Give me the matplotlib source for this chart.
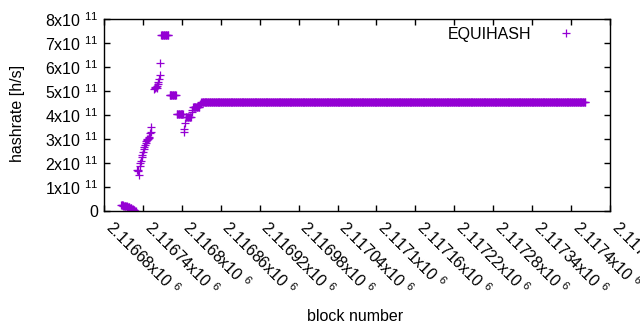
import numpy as np
import matplotlib
matplotlib.use("Agg")
import matplotlib.pyplot as plt

plt.rcParams["font.family"] = ["Liberation Sans", "DejaVu Sans"]
plt.rcParams["mathtext.default"] = "regular"

# hashrate, in units of 1e11 h/s
# each run starts at a block number and covers consecutive blocks
run_starts = [2116706, 2116731, 2116757, 2116768, 2116781, 2116792, 2116803, 2116815]
run_values = [
    [0.23, 0.23, 0.23, 0.23, 0.22, 0.22, 0.21, 0.21, 0.20, 0.19, 0.18, 0.17,
     0.16, 0.15, 0.14, 0.12, 0.11, 0.09, 0.08, 0.06, 0.05, 0.03, 0.02, 0.01],
    [1.72, 1.70, 1.66, 1.50, 1.89, 1.98, 2.08, 2.26, 2.35, 2.45, 2.58, 2.68,
     2.76, 2.85, 2.90, 2.96, 2.99, 3.01, 3.03, 3.10, 3.24, 3.30, 3.51],
    [5.08, 5.13, 5.15, 5.16, 5.14, 5.20, 5.28, 5.36, 5.49, 5.67, 6.15],
    [7.33] * 12,
    [4.82] * 11,
    [4.03] * 11,
    [3.28, 3.42, 3.65] + [3.90] * 9,
    [4.14, 4.22] + [4.32] * 11 + [4.46, 4.50],
]
# long flat stretch at the end
plateau_first = 2116830
plateau_last = 2117422
plateau_value = 4.53

xtick_values = [2116680 + 60 * i for i in range(14)]
ytick_values = [i * 1e11 for i in range(9)]

blocks = []
rates = []
for start, vals in zip(run_starts, run_values):
    for i, v in enumerate(vals):
        blocks.append(start + i)
        rates.append(v * 1e11)
for b in range(plateau_first, plateau_last + 1):
    blocks.append(b)
    rates.append(plateau_value * 1e11)

fs = 11.5
fig = plt.figure(figsize=(6.4, 3.3), dpi=100)
ax = fig.add_axes([104 / 640, 1 - 211 / 330, 506 / 640, 192 / 330])

color = "#9400d3"
ax.plot(blocks, rates, linestyle="none", marker="+", markersize=5.2,
        markeredgewidth=0.9, color=color, label="EQUIHASH")

ax.set_xlim(2116680, 2117460)
ax.set_ylim(0, 8e11)

ax.set_xticks(xtick_values)
xlabels = []
for v in xtick_values:
    s = ("%.5f" % (v / 1e6)).rstrip("0")
    xlabels.append(s + "x10 $^{6}$")
ax.set_xticklabels(xlabels, rotation=-45, ha="left", va="baseline",
                   rotation_mode="anchor", fontsize=fs)

ax.set_yticks(ytick_values)
ylabels = ["0"] + ["%dx10 $^{11}$" % i for i in range(1, 9)]
ax.set_yticklabels(ylabels, fontsize=fs)

ax.tick_params(direction="in", length=4.5, width=1, top=True, right=True)
ax.tick_params(axis="y", pad=4)
ax.tick_params(axis="x", pad=13)
for sp in ax.spines.values():
    sp.set_linewidth(1)

ax.set_ylabel("hashrate [h/s]", fontsize=fs)
ax.yaxis.set_label_coords(-79 / 506, 0.51)
ax.set_xlabel("block number", fontsize=fs)
ax.xaxis.set_label_coords((355 - 104) / 506, -(309 - 211) / 192)

ax.legend(loc="upper right", bbox_to_anchor=(0.945, 0.96), frameon=False,
          markerfirst=False, handlelength=2, handletextpad=1.2,
          borderpad=0, borderaxespad=0, fontsize=fs)

fig.savefig("out.png", dpi=100)
